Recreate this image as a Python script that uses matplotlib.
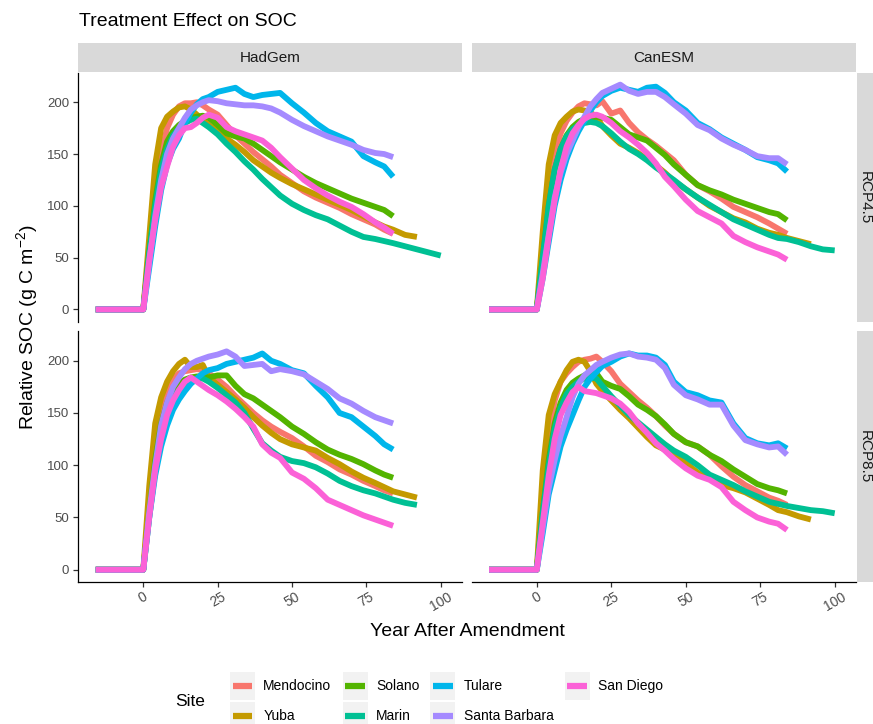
import matplotlib
matplotlib.use("Agg")
import matplotlib.pyplot as plt
from matplotlib.legend_handler import HandlerLine2D
from matplotlib.lines import Line2D
from matplotlib.patches import Rectangle

plt.rcParams["font.family"] = ["Liberation Sans", "DejaVu Sans"]
plt.rcParams["mathtext.fontset"] = "custom"
plt.rcParams["mathtext.rm"] = "Liberation Sans"
plt.rcParams["mathtext.it"] = "Liberation Sans:italic"

# shared year grid; each series uses the first len(values) years
YEARS = [-16, 0, 2, 4, 6, 8, 10, 12, 14, 16, 18, 20, 22, 25, 28, 31, 34, 37, 40,
         43, 46, 50, 54, 58, 62, 66, 70, 74, 78, 81, 84, 88, 92, 96, 100]

SITES = ["Mendocino", "Yuba", "Solano", "Marin", "Tulare", "Santa Barbara", "San Diego"]
SITE_COLORS = ["#F8766D", "#C49A00", "#53B400", "#00C094", "#00B6EB", "#A58AFF", "#FB61D7"]

HADGEM_RCP45 = {
    "Mendocino": [0, 0, 60, 110, 150, 175, 188, 196, 199, 199, 200, 197, 193, 188, 178, 168, 160, 152,
                  145, 138, 130, 122, 114, 108, 103, 98, 92, 87, 82, 77, 73],
    "Yuba": [0, 0, 70, 140, 175, 186, 191, 195, 196, 193, 188, 183, 178, 172, 165, 159, 152, 144, 138,
             132, 127, 121, 116, 111, 106, 101, 96, 90, 84, 80, 77, 72, 70],
    "Solano": [0, 0, 55, 105, 140, 162, 172, 178, 182, 185, 186, 187, 185, 178, 170, 167, 165, 160, 154,
               148, 142, 135, 128, 122, 117, 112, 107, 103, 99, 96, 90],
    "Marin": [0, 0, 55, 100, 135, 155, 168, 175, 180, 183, 184, 180, 176, 169, 160, 152, 143, 135, 126,
              118, 110, 102, 96, 91, 87, 81, 75, 70, 68, 66, 64, 61, 58, 55, 52],
    "Tulare": [0, 0, 40, 80, 115, 140, 155, 165, 180, 190, 198, 203, 205, 210, 212, 214, 208, 205, 207,
               208, 209, 199, 190, 180, 172, 167, 162, 148, 142, 138, 128],
    "Santa Barbara": [0, 0, 45, 90, 125, 150, 165, 175, 185, 193, 197, 200, 202, 201, 199, 198, 197, 197,
                      196, 194, 190, 183, 177, 172, 167, 163, 159, 154, 151, 150, 147],
    "San Diego": [0, 0, 48, 86, 118, 138, 157, 168, 175, 176, 180, 185, 188, 185, 176, 172, 169, 166, 163,
                  156, 147, 136, 125, 117, 110, 104, 99, 92, 84, 79, 73],
}

CANESM_RCP45 = {
    "Mendocino": [0, 0, 55, 110, 150, 170, 182, 190, 196, 199, 198, 197, 201, 189, 192, 180, 171, 164,
                  158, 151, 144, 130, 120, 114, 107, 99, 94, 89, 83, 78, 73],
    "Yuba": [0, 0, 75, 140, 168, 180, 186, 191, 193, 192, 190, 186, 177, 168, 160, 156, 151, 145, 139,
             132, 124, 116, 108, 100, 94, 88, 84, 78, 74, 72, 69, 66, 63],
    "Solano": [0, 0, 50, 100, 135, 155, 168, 176, 181, 184, 185, 186, 185, 183, 176, 169, 166, 163, 156,
               149, 140, 130, 120, 115, 111, 106, 102, 98, 94, 92, 86],
    "Marin": [0, 0, 50, 100, 135, 155, 167, 174, 178, 180, 181, 180, 177, 170, 162, 155, 150, 144, 137,
              131, 125, 116, 108, 101, 94, 87, 82, 77, 72, 69, 68, 65, 61, 58, 57],
    "Tulare": [0, 0, 30, 65, 100, 125, 145, 160, 172, 182, 192, 200, 206, 211, 214, 212, 210, 214, 215,
               209, 200, 192, 180, 174, 166, 160, 154, 147, 144, 141, 133],
    "Santa Barbara": [0, 0, 35, 72, 108, 132, 150, 163, 176, 186, 196, 203, 209, 213, 217, 211, 208, 210,
                      210, 205, 198, 189, 178, 173, 165, 159, 154, 148, 146, 146, 140],
    "San Diego": [0, 0, 30, 70, 105, 135, 157, 170, 178, 184, 187, 188, 186, 180, 172, 166, 159, 151, 141,
                  128, 119, 106, 95, 89, 83, 71, 65, 60, 56, 53, 48],
}

HADGEM_RCP85 = {
    "Mendocino": [0, 0, 60, 120, 155, 172, 182, 188, 190, 191, 192, 191, 188, 182, 175, 166, 158, 150,
                  143, 137, 132, 126, 118, 109, 103, 96, 91, 85, 80, 76, 73],
    "Yuba": [0, 0, 80, 140, 165, 180, 190, 197, 201, 194, 194, 196, 184, 177, 170, 163, 155, 146, 138,
             131, 125, 120, 117, 114, 107, 101, 94, 88, 83, 79, 75, 72, 69],
    "Solano": [0, 0, 55, 105, 140, 160, 172, 178, 182, 184, 185, 185, 184, 186, 186, 176, 168, 164, 158,
               152, 146, 137, 130, 122, 115, 110, 106, 101, 95, 91, 88],
    "Marin": [0, 0, 50, 95, 130, 152, 165, 172, 177, 181, 183, 183, 180, 174, 167, 160, 150, 135, 121,
              114, 108, 104, 102, 98, 92, 85, 80, 76, 73, 70, 67, 64, 62],
    "Tulare": [0, 0, 50, 90, 118, 138, 153, 163, 171, 178, 183, 188, 191, 193, 197, 199, 201, 203, 207,
               200, 197, 191, 188, 176, 165, 150, 146, 137, 128, 120, 115],
    "Santa Barbara": [0, 0, 55, 100, 138, 160, 175, 184, 192, 197, 200, 202, 204, 206, 209, 204, 195, 196,
                      197, 190, 192, 190, 187, 180, 173, 164, 159, 152, 146, 143, 140],
    "San Diego": [0, 0, 50, 95, 125, 148, 162, 172, 180, 184, 180, 176, 172, 167, 161, 154, 146, 137, 120,
                  112, 107, 93, 87, 78, 67, 62, 57, 52, 48, 45, 42],
}

CANESM_RCP85 = {
    "Mendocino": [0, 0, 70, 130, 162, 180, 188, 194, 199, 201, 202, 204, 199, 190, 178, 170, 162, 155,
                  147, 138, 130, 122, 118, 110, 99, 89, 81, 75, 69, 66, 62],
    "Yuba": [0, 0, 95, 148, 168, 180, 191, 199, 201, 199, 190, 178, 171, 162, 153, 145, 136, 127, 119,
             115, 110, 102, 93, 87, 81, 78, 74, 68, 62, 57, 55, 51, 48],
    "Solano": [0, 0, 55, 105, 140, 160, 172, 179, 183, 186, 188, 188, 180, 176, 173, 166, 158, 153, 147,
               139, 130, 122, 118, 110, 104, 96, 89, 82, 78, 76, 73],
    "Marin": [0, 0, 55, 100, 135, 155, 168, 175, 180, 183, 184, 183, 176, 166, 157, 148, 141, 134, 127,
              120, 114, 108, 100, 91, 86, 81, 75, 70, 65, 63, 61, 59, 57, 56, 54],
    "Tulare": [0, 0, 35, 72, 95, 118, 134, 148, 162, 175, 183, 189, 195, 199, 204, 207, 205, 205, 203,
               196, 180, 170, 167, 162, 160, 140, 126, 121, 119, 121, 116],
    "Santa Barbara": [0, 0, 40, 78, 105, 128, 146, 165, 178, 186, 191, 196, 199, 203, 206, 207, 204, 203,
                      201, 193, 177, 167, 163, 158, 158, 138, 124, 120, 117, 118, 110],
    "San Diego": [0, 0, 45, 90, 125, 148, 160, 170, 175, 171, 170, 169, 167, 164, 159, 151, 140, 131, 121,
                  114, 106, 97, 90, 86, 79, 65, 57, 50, 46, 44, 38],
}

MODELS = ["HadGem", "CanESM"]
SCENARIOS = ["RCP4.5", "RCP8.5"]
X_TICKS = [0, 25, 50, 75, 100]
Y_TICKS = [0, 50, 100, 150, 200]

W, H = 873, 724
STRIP_GREY = "#D9D9D9"


def px_rect(x0, y0, x1, y1):
    """pixel box (top-left origin) -> figure fraction [left, bottom, width, height]"""
    return [x0 / W, 1 - y1 / H, (x1 - x0) / W, (y1 - y0) / H]


class KeyHandler(HandlerLine2D):
    """ggplot-style legend key: grey square with a thick horizontal line"""

    def create_artists(self, legend, orig_handle, xdescent, ydescent, width, height, fontsize, trans):
        bg = Rectangle((-xdescent, -ydescent), width, height, facecolor="#F2F2F2",
                       edgecolor="none", transform=trans)
        yc = -ydescent + height / 2
        ln = Line2D([-xdescent + 2, width - xdescent - 2], [yc, yc], color=orig_handle.get_color(),
                    lw=4.5, solid_capstyle="butt", transform=trans)
        return [bg, ln]


def strip_axes(fig, rect):
    ax = fig.add_axes(rect)
    ax.set_facecolor(STRIP_GREY)
    ax.set_xticks([])
    ax.set_yticks([])
    for sp in ax.spines.values():
        sp.set_visible(False)
    return ax


fig = plt.figure(figsize=(W / 100, H / 100), dpi=100)

col_x = [(78.3, 461.7), (471.7, 855.7)]
row_y = [(72.7, 321.7), (331.0, 582.0)]
panel_data = {
    ("HadGem", "RCP4.5"): HADGEM_RCP45,
    ("CanESM", "RCP4.5"): CANESM_RCP45,
    ("HadGem", "RCP8.5"): HADGEM_RCP85,
    ("CanESM", "RCP8.5"): CANESM_RCP85,
}

handles = []
for r, scen in enumerate(SCENARIOS):
    for c, model in enumerate(MODELS):
        x0, x1 = col_x[c]
        y0, y1 = row_y[r]
        ax = fig.add_axes(px_rect(x0, y0, x1, y1))
        data = panel_data[(model, scen)]
        for site, color in zip(SITES, SITE_COLORS):
            vals = data[site]
            (line,) = ax.plot(YEARS[:len(vals)], vals, color=color, lw=4.2,
                              solid_capstyle="butt", solid_joinstyle="round")
            if r == 0 and c == 0:
                handles.append(line)
        ax.set_xlim(-21.85, 107.05)
        ax.set_ylim(-11.8, 228.5)
        ax.set_xticks(X_TICKS)
        ax.set_yticks(Y_TICKS)
        ax.spines["top"].set_visible(False)
        ax.spines["right"].set_visible(False)
        ax.spines["left"].set_visible(c == 0)
        ax.spines["bottom"].set_visible(r == 1)
        for sp in ("left", "bottom"):
            ax.spines[sp].set_color("black")
            ax.spines[sp].set_linewidth(0.9)
        ax.tick_params(axis="both", length=3.5, width=0.9, color="#333333",
                       labelsize=9.5, labelcolor="#4D4D4D")
        ax.tick_params(axis="y", pad=3)
        ax.tick_params(axis="x", pad=2, labelsize=10)
        if r == 0:
            ax.tick_params(axis="x", bottom=False, labelbottom=False)
        else:
            for lab in ax.get_xticklabels():
                lab.set_rotation(30)
                lab.set_ha("center")
        if c == 1:
            ax.tick_params(axis="y", left=False, labelleft=False)

        # strips
        if r == 0:
            sax = strip_axes(fig, px_rect(x0, 42.7, x1, 72.3))
            sax.text(0.5, 0.5, model, ha="center", va="center", fontsize=11,
                     color="#1A1A1A", transform=sax.transAxes)
        if c == 1:
            sax = strip_axes(fig, px_rect(856.5, y0, 880, y1))
            sax.text(0.35, 0.5, scen, ha="center", va="center", fontsize=11, rotation=-90,
                     color="#1A1A1A", transform=sax.transAxes)

fig.text(79 / W, 1 - 22 / H, "Treatment Effect on SOC", ha="left", va="center",
         fontsize=14, color="black")
fig.text(467 / W, 1 - 631 / H, "Year After Amendment", ha="center", va="center",
         fontsize=14, color="black")
fig.text(27 / W, 1 - 327 / H, "Relative SOC (g C m$^{-2}$)", ha="center", va="center",
         rotation=90, fontsize=14, color="black")

fig.text(175 / W, 1 - 701 / H, "Site", ha="left", va="center", fontsize=12.5, color="black")
fig.legend(handles, SITES, loc="upper left", bbox_to_anchor=(230 / W, 1 - 671.7 / H),
           ncol=4, frameon=False, borderpad=0, borderaxespad=0, fontsize=10,
           handlelength=1.8, handleheight=2.73, labelspacing=0.14, handletextpad=0.6,
           columnspacing=0.8, handler_map={Line2D: KeyHandler()})

fig.savefig("out.png", dpi=100)
